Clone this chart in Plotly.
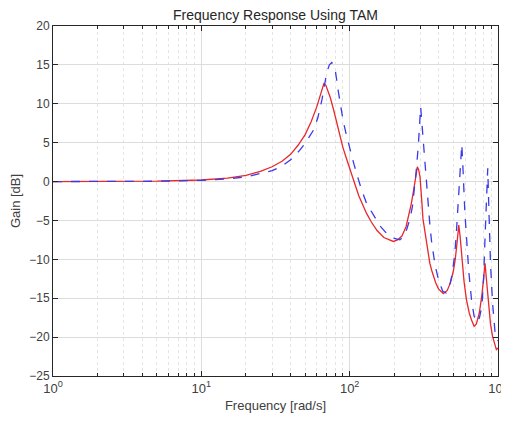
import plotly.graph_objects as go

# Red solid curve (frequency [rad/s], gain [dB])
freq_red = [1, 2, 5, 10, 15, 20, 25, 30, 35, 40, 45, 50, 55, 60, 63, 65, 67, 69, 71, 74, 78, 84, 90, 95,
            100, 107, 115, 120, 130, 140, 153, 170, 188, 197, 210, 225, 240, 250, 260, 270, 280, 286,
            292, 298, 305, 312, 322, 335, 347, 357, 380, 397, 428, 455, 478, 500, 515, 530, 544, 555,
            570, 590, 613, 640, 663, 690, 715, 748, 780, 800, 818, 835, 860, 890, 919, 950, 975, 1000]
gain_red = [0, 0.01, 0.05, 0.2, 0.45, 0.8, 1.3, 1.9, 2.6, 3.5, 4.7, 6.0, 7.7, 9.6, 11.0, 12.0, 12.6, 12.4,
            11.8, 10.8, 9.2, 6.6, 4.4, 3.0, 1.6, 0.0, -1.8, -2.6, -4.1, -5.2, -6.3, -7.2, -7.6, -7.7,
            -7.5, -7.0, -5.8, -4.5, -2.9, -1.1, 1.0, 1.9, 1.5, 0.6, -2.0, -4.8, -6.5, -9.0, -10.5, -11.4,
            -13.0, -13.8, -14.4, -14.0, -13.0, -11.5, -10.0, -7.8, -5.6, -7.0, -9.5, -12.8, -15.2, -16.9,
            -17.8, -18.6, -18.3, -16.9, -14.5, -12.3, -10.5, -12.5, -15.6, -18.3, -19.9, -21.0, -21.6, -21.4]

# Blue dashed curve
freq_blue = [1, 2, 5, 10, 15, 20, 25, 30, 35, 40, 46, 50, 57, 61, 65, 68, 70, 73, 75.7, 78, 80, 84, 87,
             90.6, 95, 100, 107, 114, 120, 130, 144, 160, 178, 200, 218, 230, 242, 255, 265, 272, 280,
             290, 296, 301, 306, 314, 322, 330, 347, 357, 377, 397, 424, 447, 470, 490, 510, 522, 535,
             549, 560, 570, 578, 584, 598, 613, 635, 663, 690, 719, 750, 779, 800, 818, 835, 853, 862,
             870, 890, 919, 960, 1000]
gain_blue = [0, 0.01, 0.04, 0.15, 0.35, 0.6, 1.0, 1.4, 2.0, 2.8, 4.0, 4.9, 6.6, 8.2, 10.5, 12.6, 14.0,
             15.0, 15.3, 15.0, 14.3, 11.5, 9.5, 7.7, 6.0, 4.3, 2.2, 0.4, -1.0, -2.8, -4.3, -5.7, -6.7,
             -7.3, -7.5, -7.1, -6.2, -4.8, -3.2, -1.5, 1.1, 4.5, 7.5, 9.6, 7.8, 5.0, 2.5, -1.0, -5.5,
             -7.8, -10.8, -12.6, -14.1, -14.3, -13.5, -12.0, -9.5, -7.1, -4.0, 0.2, 3.0, 4.8, 2.5, 0.2,
             -4.0, -7.1, -11.5, -15.2, -17.3, -18.1, -17.5, -16.0, -12.5, -7.1, -2.5, 1.7, -1.5, -4.9,
             -10.5, -15.6, -19.9, -20.5]

x_tickvals = [1, 10, 100, 1000]
x_ticktext = ["10<sup>0</sup>", "10<sup>1</sup>", "10<sup>2</sup>", "10<sup>3</sup>"]
y_tickvals = [-25, -20, -15, -10, -5, 0, 5, 10, 15, 20]

fig = go.Figure()
fig.add_trace(go.Scatter(x=freq_red, y=gain_red, mode="lines",
                         line=dict(color="#e8282c", width=1.3)))
fig.add_trace(go.Scatter(x=freq_blue, y=gain_blue, mode="lines",
                         line=dict(color="#3a3ae8", width=1.3, dash="dash")))

font_family = "Liberation Sans, Arial, sans-serif"
fig.update_layout(
    width=501, height=420,
    margin=dict(l=45, r=11, t=18, b=52, autoexpand=False),
    paper_bgcolor="white", plot_bgcolor="white",
    showlegend=False,
    font=dict(family=font_family, size=12, color="#262626"),
    title=dict(text="Frequency Response Using TAM", x=0.5, xref="paper", xanchor="center",
               y=1 - 7 / 420, yref="container", yanchor="middle", pad=dict(t=0, b=0),
               font=dict(size=14, color="#262626")),
)
fig.update_xaxes(
    type="log", range=[0, 3], automargin=False,
    tickvals=x_tickvals, ticktext=x_ticktext,
    ticks="inside", ticklen=5, tickcolor="#262626",
    showline=True, linecolor="#262626", linewidth=1, mirror="ticks",
    showgrid=True, gridcolor="#dcdcdc", gridwidth=1,
    minor=dict(showgrid=True, gridcolor="#e4e4e4", griddash="dot", ticks="inside",
               ticklen=3, tickcolor="#262626", dtick="D1"),
    zeroline=False,
    tickfont=dict(size=13, color="#404040"),
    title=dict(text="Frequency [rad/s]", font=dict(size=13, color="#404040"), standoff=6),
)
fig.update_yaxes(
    range=[-25, 20], tickvals=y_tickvals, automargin=False,
    ticks="inside", ticklen=5, tickcolor="#262626",
    showline=True, linecolor="#262626", linewidth=1, mirror="ticks",
    showgrid=True, gridcolor="#dcdcdc", gridwidth=1,
    zeroline=False,
    tickfont=dict(size=12, color="#404040"),
    title=dict(text="Gain [dB]", font=dict(size=13, color="#404040"), standoff=17),
)

fig.write_html("out.html")
